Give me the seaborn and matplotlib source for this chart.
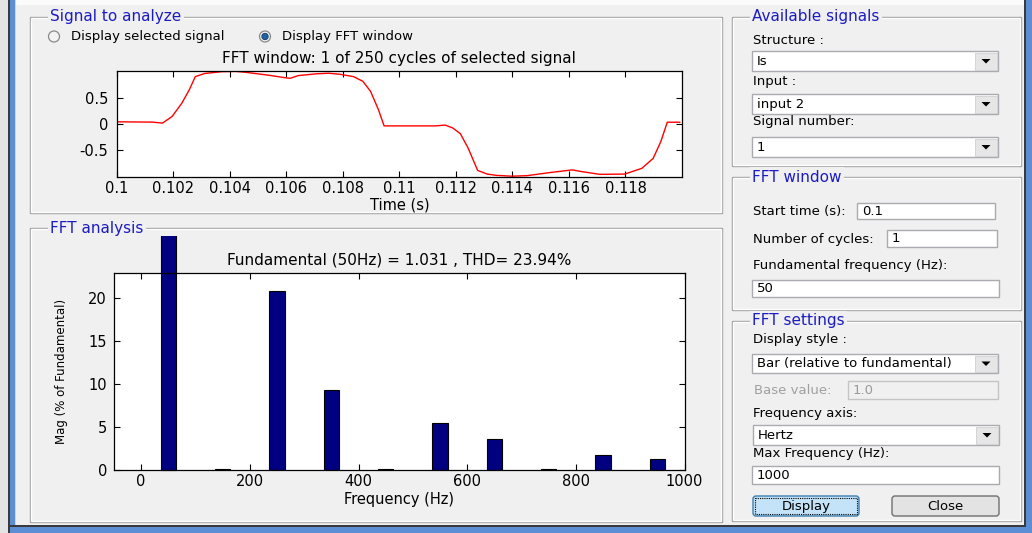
import matplotlib
matplotlib.use("Agg")
import matplotlib.pyplot as plt
import seaborn as sns
from matplotlib.patches import Rectangle, Circle, Polygon, FancyBboxPatch

# -----------------------------
# Data
# -----------------------------
time_s = [0.1, 0.10128, 0.10162, 0.10196, 0.1023, 0.10257, 0.10278, 0.10311,
          0.10372, 0.1042, 0.10453, 0.10534, 0.10601, 0.10615, 0.10642, 0.10709,
          0.1075, 0.1079, 0.10838, 0.10871, 0.10898, 0.10926, 0.10946, 0.11128,
          0.11162, 0.11189, 0.11216, 0.11243, 0.11277, 0.11311, 0.11344, 0.11398,
          0.11452, 0.11534, 0.11612, 0.11642, 0.11709, 0.11797, 0.11858, 0.11898,
          0.11925, 0.11948, 0.11993]
signal = [0.038, 0.032, 0.013, 0.14, 0.39, 0.65, 0.90, 0.96,
          0.995, 1.0, 0.985, 0.93, 0.875, 0.87, 0.92, 0.955,
          0.965, 0.945, 0.90, 0.81, 0.62, 0.27, -0.04, -0.04,
          -0.025, -0.08, -0.19, -0.46, -0.89, -0.96, -0.985, -1.0,
          -0.99, -0.93, -0.88, -0.91, -0.965, -0.96, -0.85, -0.66,
          -0.34, 0.03, 0.03]

freq_hz = [50, 150, 250, 350, 450, 550, 650, 750, 850, 950]
mag_pct = [100, 0.12, 20.9, 9.3, 0.12, 5.5, 3.6, 0.1, 1.8, 1.35]

time_ticks = [0.1, 0.102, 0.104, 0.106, 0.108, 0.11, 0.112, 0.114, 0.116, 0.118]
time_labels = ["0.1", "0.102", "0.104", "0.106", "0.108", "0.11",
               "0.112", "0.114", "0.116", "0.118"]
sig_ticks = [-0.5, 0, 0.5]
sig_labels = ["-0.5", "0", "0.5"]
freq_ticks = [0, 200, 400, 600, 800, 1000]
mag_ticks = [0, 5, 10, 15, 20]

top_title = "FFT window: 1 of 250 cycles of selected signal"
fft_title = "Fundamental (50Hz) = 1.031 , THD= 23.94%"

# -----------------------------
# Figure / GUI canvas (pixel coords, y down)
# -----------------------------
W, H = 1032, 533
BG = "#f0f0f0"
BLUE_TXT = "#1c1cc4"

sns.set_style("ticks")
plt.rcParams["font.family"] = ["DejaVu Sans"]
plt.rcParams["text.color"] = "black"
plt.rcParams["axes.labelcolor"] = "black"
plt.rcParams["axes.titlecolor"] = "black"

fig = plt.figure(figsize=(W / 100, H / 100), dpi=100, facecolor=BG)
gui = fig.add_axes([0, 0, 1, 1])
gui.set_xlim(0, W)
gui.set_ylim(H, 0)
gui.axis("off")


def pos(x0, y0, x1, y1):
    return [x0 / W, 1 - y1 / H, (x1 - x0) / W, (y1 - y0) / H]


def label(x, y, s, size=9.5, color="black", **kw):
    gui.text(x, y, s, fontsize=size, color=color, va="center", ha="left", **kw)


def frame(x0, y0, x1, y1, title):
    gui.add_patch(Rectangle((x0, y0), x1 - x0, y1 - y0, fill=False, ec="#a0a0a0", lw=1))
    gui.add_patch(Rectangle((x0 + 1, y0 + 1), x1 - x0 - 2, y1 - y0 - 2, fill=False, ec="white", lw=1))
    gui.text(x0 + 20, y0, title, fontsize=11, color=BLUE_TXT, va="center", ha="left",
             bbox=dict(boxstyle="square,pad=0.15", fc=BG, ec="none"))


def textbox(x0, y0, x1, y1, s, enabled=True):
    fc, ec, tc = ("white", "#a9abb0", "black") if enabled else (BG, "#c4c4c4", "#9a9a9a")
    gui.add_patch(Rectangle((x0, y0), x1 - x0, y1 - y0, fc=fc, ec=ec, lw=1))
    label(x0 + 5, (y0 + y1) / 2 + 0.5, s, size=9.5, color=tc)


def dropdown(x0, y0, x1, y1, s):
    textbox(x0, y0, x1, y1, s)
    gui.add_patch(Rectangle((x1 - 23, y0 + 1.5), 21.5, y1 - y0 - 3, fc="#e6e6e6", ec="#d0d0d0", lw=0.6))
    cx, cy = x1 - 12, (y0 + y1) / 2
    gui.add_patch(Polygon([(cx - 4.5, cy - 2), (cx + 4.5, cy - 2), (cx, cy + 2.5)], fc="black", ec="none"))


def button(x0, y0, x1, y1, s, focus=False):
    fc, ec = ("#c4e3f8", "#3c7fb1") if focus else ("#e3e3e3", "#707070")
    gui.add_patch(FancyBboxPatch((x0 + 2, y0 + 2), x1 - x0 - 4, y1 - y0 - 4,
                                 boxstyle="round,pad=2,rounding_size=3", fc=fc, ec=ec, lw=1))
    if focus:
        gui.add_patch(Rectangle((x0 + 2, y0 + 2), x1 - x0 - 4, y1 - y0 - 4, fill=False,
                                ec="black", lw=0.8, ls=(0, (1, 1))))
    gui.text((x0 + x1) / 2, (y0 + y1) / 2 + 0.5, s, fontsize=9.5, ha="center", va="center")


def radio(x, y, s, selected=False):
    gui.add_patch(Circle((x, y), 5.5, fc="#f2f2f2", ec="#8a8a8a", lw=0.9))
    if selected:
        gui.add_patch(Circle((x, y), 3.2, fc="#1f63a3", ec="#0d3a66", lw=0.6))
    label(x + 17, y, s)


# window borders
gui.add_patch(Rectangle((0, 0), W, 5, fc="#fbfbfb", ec="none"))
gui.add_patch(Rectangle((0, 0), 8, H, fc="#e4e4e4", ec="none"))
gui.add_patch(Rectangle((8, 0), 1.5, H, fc="#3a3a3a", ec="none"))
gui.add_patch(Rectangle((9.5, 0), 5, H, fc="#5b8ed4", ec="none"))
gui.add_patch(Rectangle((14.5, 0), 1.5, 525, fc="#c9d8ec", ec="none"))
gui.add_patch(Rectangle((9.5, 525), W, 1.5, fc="#3a3a3a", ec="none"))
gui.add_patch(Rectangle((9.5, 526.5), W, 7, fc="#5b8ed4", ec="none"))
gui.add_patch(Rectangle((1024, 0), 1.5, 526, fc="#3a3a3a", ec="none"))
gui.add_patch(Rectangle((1025.5, 0), 7, H, fc="#5b8ed4", ec="none"))

# left panels
frame(30, 17, 722, 213, "Signal to analyze")
radio(54, 36.5, "Display selected signal")
radio(265, 36.5, "Display FFT window", selected=True)
frame(30, 228, 722, 522, "FFT analysis")

# right panels
frame(732, 17, 1021, 166, "Available signals")
label(753, 40, "Structure :")
dropdown(752, 51, 998, 71, "Is")
label(753, 82, "Input :")
dropdown(752, 94, 998, 114, "input 2")
label(753, 122, "Signal number:")
dropdown(752, 137, 998, 157, "1")

frame(732, 177, 1021, 310, "FFT window")
label(753, 211, "Start time (s):")
textbox(857, 203, 995, 219, "0.1")
label(753, 239, "Number of cycles:")
textbox(887, 230, 997, 247, "1")
label(753, 266, "Fundamental frequency (Hz):")
textbox(752, 280, 999, 297, "50")

frame(732, 321, 1021, 521, "FFT settings")
label(753, 340, "Display style :")
dropdown(752, 354, 998, 373, "Bar (relative to fundamental)")
label(754, 390, "Base value:", color="#a0a0a0")
textbox(848, 381, 998, 399, "1.0", enabled=False)
label(753, 413, "Frequency axis:")
dropdown(753, 425, 999, 445, "Hertz")
label(753, 454, "Max Frequency (Hz):")
textbox(752, 466, 999, 484, "1000")
button(753, 496, 859, 516, "Display", focus=True)
button(892, 496, 999, 516, "Close")

# -----------------------------
# Signal plot
# -----------------------------
ax1 = fig.add_axes(pos(116.7, 71.4, 682, 176.7))
sns.lineplot(x=time_s, y=signal, ax=ax1, color="red", linewidth=1)
ax1.set_xlim(0.1, 0.12)
ax1.set_ylim(-1.01, 1.0)
ax1.set_xticks(time_ticks, time_labels)
ax1.set_yticks(sig_ticks, sig_labels)
ax1.set_title(top_title, fontsize=11, pad=6)
ax1.set_xlabel("Time (s)", fontsize=10.5)
ax1.xaxis.set_label_coords(0.5, -0.2)

# -----------------------------
# FFT bar plot
# -----------------------------
ax2 = fig.add_axes(pos(114, 272.7, 684.5, 470.3))
sns.barplot(x=freq_hz, y=mag_pct, ax=ax2, orient="x", native_scale=True, width=0.28,
            color="#000080", saturation=1, edgecolor="black", linewidth=0.8, errorbar=None)
ax2.set_xlim(-50, 1000)
ax2.set_ylim(0, 23)
ax2.set_xticks(freq_ticks, [str(v) for v in freq_ticks])
ax2.set_yticks(mag_ticks, [str(v) for v in mag_ticks])
ax2.set_title(fft_title, fontsize=11, pad=6)
ax2.set_xlabel("Frequency (Hz)", fontsize=10.5)
ax2.xaxis.set_label_coords(0.5, -0.11)
ax2.set_ylabel("Mag (% of Fundamental)", fontsize=8.5)
ax2.yaxis.set_label_coords(-0.08, 0.5)

# the fundamental bar runs past the axes, up to the panel edge
panel_clip = Rectangle((31, 236), 690, 285, transform=gui.transData)
for p in ax2.patches:
    if p.get_height() > 23:
        p.set_clip_path(panel_clip)

for ax in (ax1, ax2):
    ax.set_facecolor("white")
    for sp in ax.spines.values():
        sp.set_color("black")
        sp.set_linewidth(0.9)
    ax.tick_params(direction="in", top=True, right=True, length=4, width=0.8,
                   labelsize=10.5, colors="black")
ax1.tick_params(axis="x", pad=3)
ax1.tick_params(axis="y", pad=6)
ax2.tick_params(axis="x", pad=3)
ax2.tick_params(axis="y", pad=5)

fig.savefig("out.png", dpi=100, facecolor=BG)
